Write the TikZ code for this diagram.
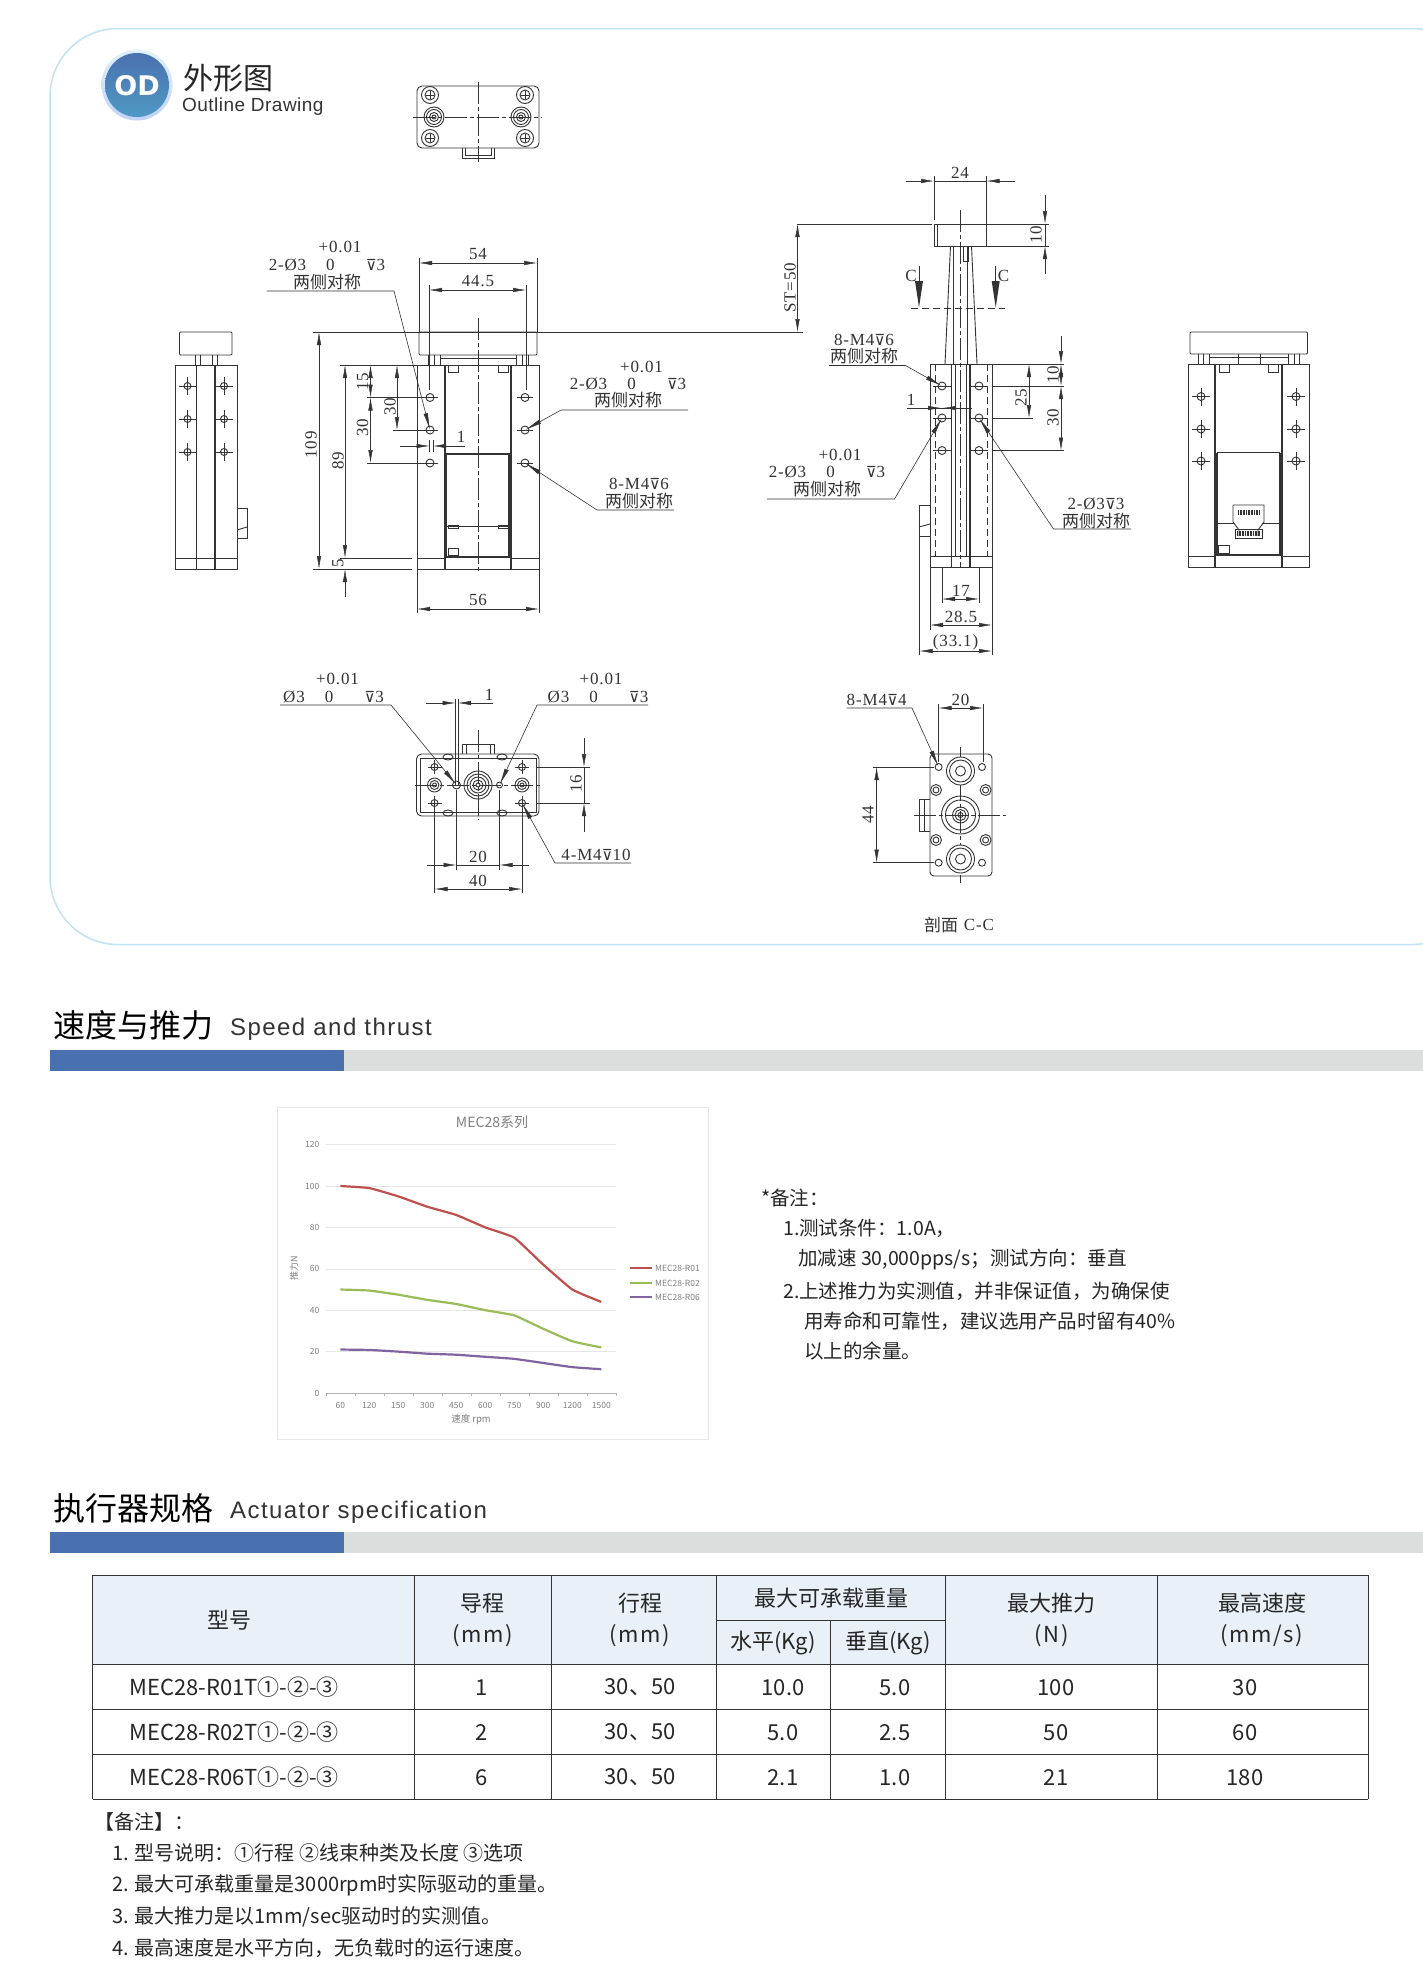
\documentclass[tikz,border=0pt]{standalone}
\usepackage{fontspec}
\setmainfont{Noto Sans CJK SC}
\newfontfamily\unitfont[LetterSpace=7]{Noto Sans CJK SC}
\newfontfamily\dimfont[LetterSpace=5]{Liberation Serif}
\newfontfamily\latinfont[LetterSpace=2.5]{Liberation Sans}
\newfontfamily\hdfont[LetterSpace=6]{Liberation Sans}
\newfontfamily\symfont{DejaVu Sans}
\usetikzlibrary{arrows.meta}
\newcommand\fsz[1]{\fontsize{#1}{#1}\selectfont}
\newcommand\dep{{\symfont\fsz{15}⊽}}
\newcommand\fwcomma{\char"FF0C\relax}
\newcommand\fwcolon{\char"FF1A\relax}
\newcommand\fwsemi{\char"FF1B\relax}
\definecolor{ink}{HTML}{333333}
\definecolor{framec}{HTML}{BFE3F2}
\definecolor{barblue}{HTML}{4A71AF}
\definecolor{bargray}{HTML}{DCDDDD}
\definecolor{headc}{HTML}{E9F0F8}
\definecolor{gridc}{HTML}{E6E6E6}
\definecolor{axisc}{HTML}{808080}
\definecolor{rzero}{HTML}{C0504D}
\definecolor{gzero}{HTML}{9BBB59}
\definecolor{vzero}{HTML}{8064A2}
\tikzset{
  part/.style={line width=.9pt,draw=ink},
  heavy/.style={line width=1.5pt,draw=ink},
  ext/.style={line width=.5pt,draw=ink},
  cen/.style={line width=.5pt,draw=ink,dash pattern=on 22pt off 3pt on 4pt off 3pt},
  hid/.style={line width=.6pt,draw=ink,dash pattern=on 7pt off 4pt},
  dim/.style={line width=.5pt,draw=ink,{Latex[length=13pt,width=4.5pt]}-{Latex[length=13pt,width=4.5pt]}},
  tip/.style={line width=.5pt,draw=ink,-{Latex[length=13pt,width=4.5pt]}},
  lead/.style={line width=.6pt,draw=ink,-{Latex[length=17pt,width=4.5pt]}},
  lab/.style={font=\dimfont\fsz{17},text=ink,inner sep=0pt},
  vlab/.style={lab,rotate=90},
  sym/.style={font=\fsz{17},text=ink,inner sep=0pt},
  title/.style={font=\fsz{32},text=black,inner sep=0pt,anchor=west},
  etitle/.style={font=\hdfont\fsz{24},text=black!80,inner sep=0pt,anchor=west},
  note/.style={font=\fsz{19.5},text=black!85,inner sep=0pt,anchor=west},
  tnote/.style={font=\fsz{20},text=black!85,inner sep=0pt,anchor=west},
  cell/.style={font=\fsz{22},text=black!85,inner sep=0pt},
  unit/.style={font=\unitfont\fsz{22},text=black!85,inner sep=0pt},
  tick/.style={font=\fsz{8.5},text=axisc,inner sep=0pt},
  legendtxt/.style={font=\fsz{8.5},text=axisc,inner sep=0pt,anchor=west},
}
\begin{document}
\begin{tikzpicture}[x=1pt,y=-1pt]
\clip (0,0) rectangle (1423,1965);
\fill[white] (0,0) rectangle (1423,1965);
% frame and badge
\draw[framec,line width=1.5pt,rounded corners=68pt] (50,28.5) rectangle (1480,944.5);
\shade[top color=framec!50,bottom color=framec!80!blue!60] (137,85) circle (35.5);
\shade[top color=barblue,bottom color=barblue!80!cyan!90] (137,85) circle (32);
\node[font=\symfont\bfseries\fsz{27},text=white,inner sep=0pt] (badge) at (137,85.5) {OD};
\node[font=\fsz{30},text=black!85,inner sep=0pt,anchor=west] (odcn) at (183,78) {外形图};
\node[font=\latinfont\fsz{19},text=black!80,inner sep=0pt,anchor=west] (oden) at (182,107) {Outline Drawing};
% top view
\draw[part,rounded corners=5pt] (417,86) rectangle (539,148);
\draw[part] (462,148) -- (462,158) -- (494,158) -- (494,148);
\draw[part] (465,148) -- (465,155) -- (491,155) -- (491,148);
\draw[cen] (478,82) -- (478,162);
\draw[cen] (413,117) -- (542,117);
\foreach \xx in {430,525} \foreach \yy in {95,138} {
  \draw[part] (\xx,\yy) circle (8.5) circle (5);
  \draw[ext] (\xx-4,\yy) -- (\xx+4,\yy) (\xx,\yy-4) -- (\xx,\yy+4);
}
\foreach \xx in {434,521} \draw[part] (\xx,117) circle (10) circle (7.5) circle (4.5) circle (2);
% left side view
\draw[part] (175,365) rectangle (237,569);
\draw[part,rounded corners=1pt] (179.5,332) rectangle (232,355);
\draw[part] (195,355) -- (195,365) (217,355) -- (217,365) (200,355) -- (200,365) (212,355) -- (212,365);
\draw[heavy] (196.5,365) -- (196.5,569) (215,365) -- (215,569);
\draw[part] (175,558) -- (237,558);
\draw[part] (237,508) rectangle (247,538);
\draw[part] (237,530) -- (247,527);
\foreach \xx in {187.5,224} \foreach \yy in {386,419,452} {
  \draw[part] (\xx,\yy) circle (3.5);
  \draw[ext] (\xx-9,\yy) -- (\xx+9,\yy) (\xx,\yy-9) -- (\xx,\yy+9);
}
% front view
\draw[part] (417,365) rectangle (539,569);
\draw[part,rounded corners=1pt] (419,332) rectangle (537,355);
\draw[part] (428,355) -- (428,365) (434,355) -- (434,365) (440,355) -- (440,365) (516,355) -- (516,365) (522,355) -- (522,365) (528,355) -- (528,365);
\draw[part] (440,358) -- (516,358);
\draw[heavy] (445,365) -- (445,569) (511,365) -- (511,569);
\draw[heavy] (446.5,454) rectangle (509,557);
\draw[part] (446.5,526) -- (509,526);
\draw[part] (448,365) rectangle (458,372) (498,365) rectangle (508,372);
\draw[part] (448,525) rectangle (458,528) (498,525) rectangle (508,528) (448,548) rectangle (458,555);
\draw[part] (417,558) -- (445,558) (511,558) -- (539,558);
\draw[cen] (478,318) -- (478,572);
\foreach \xx in {430,525} \foreach \yy in {397.5,430,463} {
  \draw[part] (\xx,\yy) circle (4);
  \draw[ext] (\xx-8,\yy) -- (\xx+8,\yy);
}
% front view dimensions
\foreach \xa/\xb/\yy/\nm/\lab in {419/537/263/da/54,429/526/290/db/44.5,417/539/609/dc/56} {
  \draw[dim] (\xa,\yy) -- (\xb,\yy);
  \node[lab] (\nm) at (478,\yy-9) {\lab};
}
\draw[ext] (419,258) -- (419,332) (537,258) -- (537,332) (429,285) -- (429,390) (526,285) -- (526,390);
\draw[ext] (417,569) -- (417,613) (539,569) -- (539,613);
\draw[ext] (313,332) -- (803,332);
\draw[ext] (313,569) -- (412,569) (340,558) -- (412,558) (340,365) -- (417,365);
\draw[ext] (367,397.5) -- (438,397.5) (393,430) -- (438,430) (367,463) -- (438,463);
\draw[dim] (319,332) -- (319,569);
\node[vlab] (dd) at (311,445) {109};
\draw[dim] (345,365) -- (345,558);
\node[vlab] (de) at (338,461) {89};
\draw[tip] (345,597) -- (345,569);
\node[vlab] (df) at (338,563) {5};
\draw[dim] (370.5,365) -- (370.5,397.5);
\draw[dim] (370.5,397.5) -- (370.5,463);
\node[vlab] (dg) at (362.5,382) {15};
\node[vlab] (dh) at (362.5,428) {30};
\draw[dim] (397,365) -- (397,430);
\node[vlab] (di) at (390,407) {30};
\draw[tip] (400,446) -- (429.5,446);
\draw[tip] (465,446) -- (433,446);
\node[lab] (dj) at (461,437) {1};
\draw[ext] (429.5,440) -- (429.5,452) (433,440) -- (433,452);
% front view leaders
\node[lab] (la) at (340,247) {+0.01};
\node[lab] (lb) at (327,265) {2-Ø3\hspace{20pt}0\hspace{31pt}\dep 3};
\node[sym] (lc) at (327,282) {两侧对称};
\draw[lead] (266.5,291) -- (394,291) -- (430,430);
\node[lab] (ld) at (641.5,367) {+0.01};
\node[lab] (le) at (628,384) {2-Ø3\hspace{20pt}0\hspace{31pt}\dep 3};
\node[sym] (lf) at (628,400) {两侧对称};
\draw[lead] (688,410) -- (561,410) -- (525,430);
\node[lab] (lg) at (639,484) {8-M4\dep 6};
\node[sym] (lh) at (639,501) {两侧对称};
\draw[lead] (674,510) -- (597,510) -- (525,463);
% middle side view
\draw[part] (934,224) rectangle (986.5,246);
\draw[part] (937,224) -- (937,246);
\draw[part] (950.5,246) -- (945,364) (971.5,246) -- (977,364);
\draw[part] (953.5,246) -- (953.5,364) (967,246) -- (967,364);
\draw[part] (963,246) rectangle (968,261);
\draw[part] (930,364) rectangle (992,567);
\draw[heavy] (951.5,364) -- (951.5,567) (970,364) -- (970,567);
\draw[ext] (955,364) -- (955,556) (966.5,364) -- (966.5,556);
\draw[part] (930,556) -- (992,556);
\draw[part] (919,505.5) rectangle (930,536);
\draw[part] (919,527) -- (930,524);
\draw[cen] (960,210) -- (960,568);
\foreach \xx in {935,987} \draw[hid] (\xx,364) -- (\xx,556);
\foreach \xx in {942,979} \foreach \yy in {386,418,450.5} {
  \draw[part,fill=white] (\xx,\yy) circle (4);
  \draw[ext] (\xx-9,\yy) -- (\xx+9,\yy);
}
\draw[ext] (934,176) -- (934,220) (986.5,176) -- (986.5,224);
\draw[tip] (905.5,181) -- (934,181);
\draw[tip] (1015,181) -- (986.5,181);
\draw[ext] (934,181) -- (986.5,181);
\node[lab] (ma) at (960,172.5) {24};
\draw[ext] (986.5,224) -- (1049,224) (986.5,246) -- (1049,246);
\draw[tip] (1045,195) -- (1045,224);
\draw[tip] (1045,274) -- (1045,246);
\draw[ext] (1045,224) -- (1045,246);
\node[vlab] (mb) at (1036,235) {10};
\draw[ext] (797,224) -- (931.5,224);
\draw[dim] (797.5,224) -- (797.5,332);
\node[vlab] (mc) at (790,288) {ST=50};
\draw[hid] (911,308) -- (1005,308);
\foreach \xx/\xl/\nm in {919/911/cl,995.7/1003.5/cr} {
  \draw[ext] (\xx,266) -- (\xx,285);
  \fill[ink] (\xx-4,281) -- (\xx+4,281) -- (\xx,307.5) -- cycle;
  \node[lab] (\nm) at (\xl,276) {C};
}
\draw[ext] (992,364) -- (1064,364) (992,386) -- (1064,386) (992,418) -- (1033,418) (992,450.5) -- (1064,450.5);
\draw[tip] (1061,336) -- (1061,364);
\draw[dim] (1061,364) -- (1061,386);
\draw[dim] (1061,386) -- (1061,450.5);
\node[vlab] (md) at (1053,375) {10};
\node[vlab] (me) at (1053,418) {30};
\draw[dim] (1029,364) -- (1029,418);
\node[vlab] (mf) at (1021,398) {25};
\draw[tip] (926,408) -- (941,408);
\draw[tip] (957,408) -- (943,408);
\draw[ext] (907,408) -- (972,408);
\node[lab] (mg) at (911,400) {1};
\node[lab] (mh) at (864,340) {8-M4\dep 6};
\node[sym] (mi) at (864,356) {两侧对称};
\draw[lead] (829,365.5) -- (905.5,365.5) -- (942,386);
\node[lab] (mj) at (840,455) {+0.01};
\node[lab] (mk) at (827,472) {2-Ø3\hspace{20pt}0\hspace{31pt}\dep 3};
\node[sym] (ml) at (827,489) {两侧对称};
\draw[lead] (767,499) -- (894.5,499) -- (942,418);
\node[lab] (mm) at (1096,504) {2-Ø3\dep 3};
\node[sym] (mn) at (1096,521) {两侧对称};
\draw[lead] (1131,529) -- (1053.5,529) -- (979,418);
\draw[ext] (942,567) -- (942,603) (979,567) -- (979,603) (930,567) -- (930,630) (992,567) -- (992,655) (919.5,536) -- (919.5,655);
\foreach \xa/\xb/\yy/\nm/\lab/\xm in {942/979/599/mo/17/961,930/992/625/mp/28.5/961,919.5/992/651/mq/{(33.1)}/955.6} {
  \draw[dim] (\xa,\yy) -- (\xb,\yy);
  \node[lab] (\nm) at (\xm,\yy-8.5) {\lab};
}
% right view
\draw[part] (1188,364) rectangle (1309,567);
\draw[part,rounded corners=1pt] (1190,332) rectangle (1307.5,354);
\draw[part] (1198,354) -- (1198,364) (1203,354) -- (1203,364) (1209,354) -- (1209,364) (1288,354) -- (1288,364) (1294,354) -- (1294,364) (1299,354) -- (1299,364);
\draw[part] (1209,357) -- (1288,357);
\draw[part] (1238,354) -- (1238,364) (1260,354) -- (1260,364);
\draw[heavy] (1215,364) -- (1215,567) (1282,364) -- (1282,567);
\draw[part] (1219,364) rectangle (1229,372) (1268,364) rectangle (1278,372);
\draw[heavy] (1217,452.5) -- (1217,555) -- (1280,555) -- (1280,452.5);
\draw[part] (1217,452.5) -- (1280,452.5);
\draw[part] (1188,556) -- (1215,556) (1282,556) -- (1309,556);
\draw[part] (1217,523) -- (1235,523) (1262,523) -- (1280,523);
\draw[part] (1233,505) -- (1264,505) -- (1264,522) -- (1258,530) -- (1258,536) (1233,505) -- (1233,522) -- (1239,530) -- (1239,536);
\draw[line width=5pt,draw=ink,dash pattern=on .8pt off .8pt] (1238,512) -- (1260,512) (1237,533.5) -- (1261,533.5);
\draw[part] (1235,529) rectangle (1262,538);
\draw[part] (1218,545) rectangle (1229,553);
\foreach \xx in {1201,1296} \foreach \yy in {396.5,429,461} {
  \draw[part] (\xx,\yy) circle (4);
  \draw[ext] (\xx-9,\yy) -- (\xx+9,\yy) (\xx,\yy-9) -- (\xx,\yy+9);
}
% bottom view
\draw[part,rounded corners=5pt] (416.5,754) rectangle (539,816);
\draw[part] (420,758) rectangle (536,812);
\draw[part] (462,754) -- (462,744) -- (494,744) -- (494,754);
\draw[part] (466,744) -- (466,754) (490,744) -- (490,754);
\foreach \xx in {448,502} \foreach \yy in {757,813} \draw[part] (\xx,\yy) ellipse (5 and 3);
\draw[cen] (478,730) -- (478,820);
\draw[cen] (415,785) -- (541,785);
\draw[part] (478,785) circle (14) circle (11) circle (8) circle (5) circle (2);
\foreach \xx in {434.5,522} {
  \draw[part] (\xx,785) circle (7) circle (4.5) circle (2);
  \foreach \yy in {767,803} {
    \draw[part] (\xx,\yy) circle (3.5);
    \draw[ext] (\xx-7,\yy) -- (\xx+7,\yy) (\xx,\yy-7) -- (\xx,\yy+7);
  }
}
\draw[part] (456.5,785) circle (4) (499.5,785) circle (3);
\draw[ext] (455.5,699) -- (455.5,785) (458,699) -- (458,785);
\draw[ext] (456.5,790) -- (456.5,870) (499.5,790) -- (499.5,870) (434.5,808) -- (434.5,893) (522,808) -- (522,893);
\draw[ext] (536,767) -- (590,767) (536,803) -- (590,803);
\draw[tip] (584,738) -- (584,767);
\draw[tip] (584,832) -- (584,803);
\draw[ext] (584,767) -- (584,803);
\node[vlab] (ba) at (576,784) {16};
\draw[tip] (426,703) -- (455.5,703);
\draw[tip] (493,703) -- (458,703);
\node[lab] (bb) at (489,695) {1};
\draw[tip] (427,865) -- (456.5,865);
\draw[tip] (529,865) -- (499.5,865);
\draw[ext] (456.5,865) -- (499.5,865);
\node[lab] (bc) at (478,857) {20};
\draw[dim] (434.5,889) -- (522,889);
\node[lab] (bd) at (478,881) {40};
\node[lab] (be) at (337.5,679) {+0.01};
\node[lab] (bf) at (333.5,697) {Ø3\hspace{20pt}0\hspace{31pt}\dep 3};
\draw[lead] (280,705) -- (391,705) -- (456.5,785);
\node[lab] (bg) at (601,679) {+0.01};
\node[lab] (bh) at (598,697) {Ø3\hspace{20pt}0\hspace{31pt}\dep 3};
\draw[lead] (648,705) -- (537,705) -- (499.5,785);
\node[lab] (bi) at (596,855) {4-M4\dep 10};
\draw[lead] (631,863) -- (555,863) -- (522,803);
% section C-C
\draw[part,rounded corners=4pt] (930,754) rectangle (992,876);
\draw[part] (930,799) -- (919,799) -- (919,831) -- (930,831);
\draw[part] (924,799) -- (924,831);
\draw[cen] (960.5,747) -- (960.5,883);
\draw[cen] (914,815) -- (1006,815);
\draw[part] (960.5,815) circle (19) circle (15) circle (8) circle (5.5) circle (2.5);
\foreach \yy in {771,859} \draw[part,fill=white] (960.5,\yy) circle (14) circle (11) circle (5);
\foreach \xx in {938.6,982} \foreach \yy in {767,862.7} \draw[part] (\xx,\yy) circle (3.5);
\foreach \xx in {936,985.6} \foreach \yy in {790,840} \draw[part] (\xx,\yy) circle (5.5) circle (3);
\node[lab] (ca) at (876.6,700) {8-M4\dep 4};
\draw[lead] (846.5,708) -- (912,708) -- (938.6,767);
\draw[ext] (938.6,704) -- (938.6,762) (983,704) -- (983,762);
\draw[dim] (938.6,708) -- (983,708);
\node[lab] (cb) at (960.5,700) {20};
\draw[ext] (873,767) -- (934,767) (873,862.7) -- (934,862.7);
\draw[dim] (876.6,767) -- (876.6,862.7);
\node[vlab] (cc) at (868,815) {44};
\node[font=\fsz{17},text=ink,inner sep=0pt] (cd) at (941,925) {剖面};
\node[lab] (ce) at (979,925) {C-C};
% speed and thrust
\node[title] (st) at (53,1025) {速度与推力};
\node[etitle] (ste) at (230,1029) {Speed and thrust};
\fill[bargray] (344,1050) rectangle (1423,1071);
\fill[barblue] (50,1050) rectangle (344,1071);
\draw[gridc,line width=.7pt] (277,1107) rectangle (708,1439);
\node[font=\fsz{14},text=axisc,inner sep=0pt] (chart) at (492,1122) {MEC28系列};
\begin{scope}[shift={(340.3,1393)},x=29pt,y=2.07pt]
\foreach \vv in {20,40,...,120} \draw[gridc,line width=.6pt] (-.5,\vv) -- (9.5,\vv);
\foreach \vv in {0,20,...,120} \node[tick,anchor=east] at (-.72,\vv) {\vv};
\draw[axisc!60,line width=.6pt] (-.5,0) -- (9.5,0);
\foreach \ii/\cat in {0/60,1/120,2/150,3/300,4/450,5/600,6/750,7/900,8/1200,9/1500} {
  \draw[axisc!60,line width=.5pt] (\ii-.5,0) -- (\ii-.5,-1.5);
  \node[tick] at (\ii,-6) {\cat};
}
\draw[axisc!60,line width=.5pt] (9.5,0) -- (9.5,-1.5);
\draw[rzero,line width=2.2pt] plot[smooth,tension=.25] coordinates {(0,100) (1,99) (2,95) (3,90) (4,86) (5,80) (6,75) (7,62) (8,50) (9,44)};
\draw[gzero,line width=2.2pt] plot[smooth,tension=.25] coordinates {(0,50) (1,49.5) (2,47.5) (3,45) (4,43) (5,40) (6,37.5) (7,31) (8,25) (9,22)};
\draw[vzero,line width=2.2pt] plot[smooth,tension=.25] coordinates {(0,21) (1,20.8) (2,20) (3,19) (4,18.5) (5,17.5) (6,16.5) (7,14.5) (8,12.5) (9,11.5)};
\end{scope}
\node[font=\fsz{9},text=axisc,inner sep=0pt,rotate=90] (ylab) at (294,1268) {推力N};
\node[font=\fsz{9.5},text=axisc,inner sep=0pt] (xlab) at (471,1420) {速度 rpm};
\foreach \yy/\col/\nm/\lab in {1268/rzero/lga/MEC28-R01,1283/gzero/lgb/MEC28-R02,1297/vzero/lgc/MEC28-R06} {
  \draw[\col,line width=2.2pt] (630,\yy) -- (652,\yy);
  \node[legendtxt] (\nm) at (655,\yy) {\lab};
}
\node[note] (na) at (761,1198) {*备注\fwcolon};
\node[note] (nb) at (783,1228) {1.测试条件\fwcolon 1.0A\fwcomma};
\node[note] (nc) at (798,1259.5) {加减速 30,000pps/s\fwsemi 测试方向\fwcolon 垂直};
\node[note] (nd) at (783,1291) {2.上述推力为实测值\fwcomma 并非保证值\fwcomma 为确保使};
\node[note] (ne) at (804,1321) {用寿命和可靠性\fwcomma 建议选用产品时留有40\%};
\node[note] (nf) at (804,1351) {以上的余量。};
% actuator specification
\node[title] (as) at (53,1508) {执行器规格};
\node[etitle] (ase) at (230,1512) {Actuator specification};
\fill[bargray] (344,1532) rectangle (1423,1553);
\fill[barblue] (50,1532) rectangle (344,1553);
\fill[headc] (92.5,1575) rectangle (1368,1664);
\foreach \yy in {1575,1664,1709,1754,1799} \draw[ink,line width=1pt] (92.5,\yy) -- (1368,\yy);
\foreach \xx in {92.5,414,551,716,945.7,1157.4,1368} \draw[ink,line width=1pt] (\xx,1575) -- (\xx,1799);
\draw[ink,line width=1pt] (830.5,1620) -- (830.5,1799);
\draw[ink,line width=1pt] (716,1620) -- (945.7,1620);
\node[cell] (ha) at (229.5,1620) {型号};
\foreach \xx/\top/\bot/\nm in {482.5/导程/{(mm)}/hb,640/行程/{(mm)}/hc,1051.5/最大推力/{(N)}/hd,1262/最高速度/{(mm/s)}/he} {
  \node[cell] (\nm) at (\xx,1603) {\top};
  \node[unit] at (\xx,1636) {\bot};
}
\node[cell] (hf) at (831,1598) {最大可承载重量};
\node[cell] (hg) at (773,1643) {水平(Kg)};
\node[cell] (hh) at (888,1643) {垂直(Kg)};
\foreach \yy/\mo/\da/\hz/\vt/\fo/\sd/\nm in {1687.5/MEC28-R01T/1/10.0/5.0/100/30/ra,1732.5/MEC28-R02T/2/5.0/2.5/50/60/rb,1777.5/MEC28-R06T/6/2.1/1.0/21/180/rc} {
  \node[cell,anchor=west] (\nm) at (129,\yy) {\mo①-②-③};
  \node[cell] at (482,\yy) {\da};
  \node[cell] at (640,\yy) {30、50};
  \node[cell] at (783,\yy) {\hz};
  \node[cell] at (895,\yy) {\vt};
  \node[cell] at (1056,\yy) {\fo};
  \node[cell] at (1245,\yy) {\sd};
}
\node[tnote] (ta) at (94,1822) {【备注】\fwcolon};
\node[tnote] (tb) at (112,1853) {1. 型号说明\fwcolon ①行程 ②线束种类及长度 ③选项};
\node[tnote] (tc) at (112,1885) {2. 最大可承载重量是3000rpm时实际驱动的重量。};
\node[tnote] (td) at (112,1917) {3. 最大推力是以1mm/sec驱动时的实测值。};
\node[tnote] (te) at (112,1948) {4. 最高速度是水平方向\fwcomma 无负载时的运行速度。};
\end{tikzpicture}
\end{document}
